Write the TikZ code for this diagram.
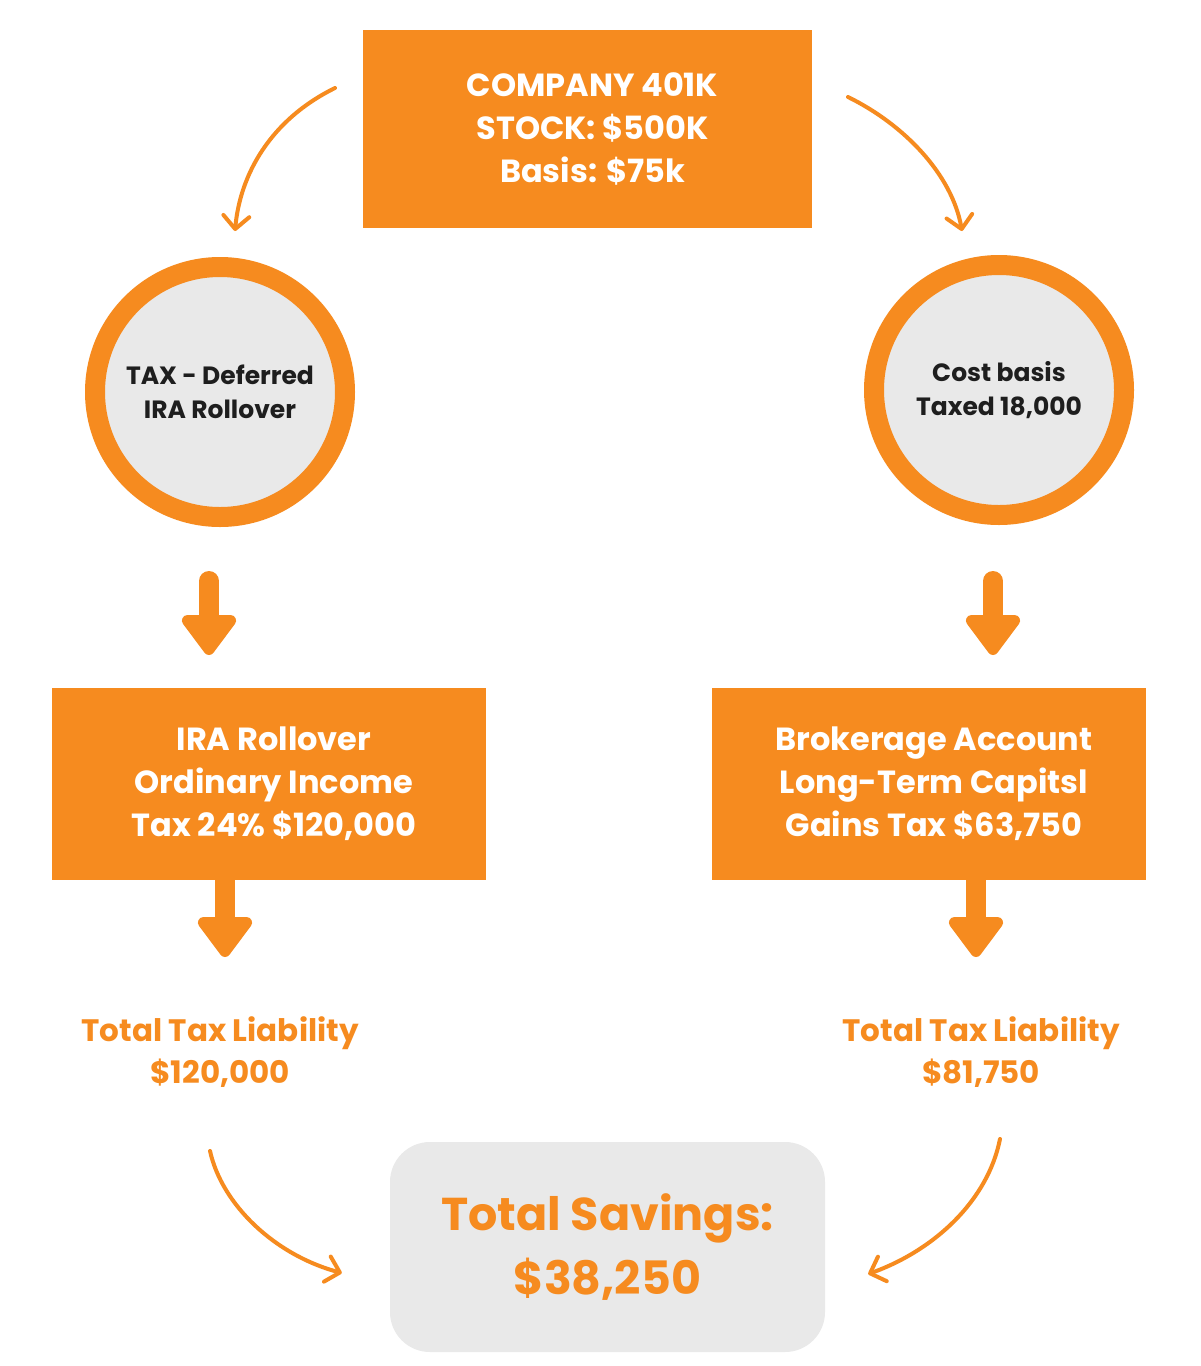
\documentclass[tikz,border=0pt]{standalone}
\usepackage{fontspec}
\setmainfont{Poppins}
\usetikzlibrary{arrows.meta,calc}
\definecolor{org}{HTML}{F68B1F}
\definecolor{lgray}{HTML}{E9E9E9}
\definecolor{dk}{HTML}{1E1E1E}
\begin{document}
\begin{tikzpicture}[x=1pt,y=-1pt,
  obox/.style={fill=org, text=white, inner sep=0pt, outer sep=0pt, align=center,
    font=\fontsize{32}{43}\selectfont\bfseries},
  ring/.style={circle, draw=org, line width=20pt, fill=lgray, minimum size=250pt,
    inner sep=0pt, text=dk, align=center, font=\fontsize{25}{34}\selectfont\bfseries},
  otext/.style={text=org, align=center, font=\fontsize{31}{42}\selectfont\bfseries},
  curvy/.style={draw=org, line width=4pt, line cap=round,
    -{Straight Barb[length=13pt,width=26pt,round]}},
  blockarr/.style={draw=org, line width=20pt,
    -{Triangle[length=44pt,width=62pt,round]}}
]
\fill[white] (0,0) rectangle (1200,1366);

\node[obox, minimum width=449pt, minimum height=198pt] (top) at (587.5,129)
  {\hspace*{10pt}COMPANY 401K\\\hspace*{10pt}STOCK: \$500K\\\hspace*{10pt}Basis: \$75k};

\node[ring] (lc) at (220,392) {TAX - Deferred\\IRA Rollover};
\node[ring] (rc) at (999,390) {Cost basis\\Taxed 18,000};

\node[obox, minimum width=434pt, minimum height=192pt] (lb) at (269,784)
  {\hspace*{10pt}IRA Rollover\\\hspace*{10pt}Ordinary Income\\\hspace*{10pt}Tax 24\% \$120,000};
\node[obox, minimum width=434pt, minimum height=192pt] (rb) at (929,784)
  {\hspace*{10pt}Brokerage Account\\\hspace*{10pt}Long-Term Capitsl\\\hspace*{10pt}Gains Tax \$63,750};

\node[otext] (lt) at (220,1052) {Total Tax Liability\\\$120,000};
\node[otext] (rt) at (981,1052) {Total Tax Liability\\\$81,750};

\node[fill=lgray, rounded corners=40pt, minimum width=435pt, minimum height=210pt,
  inner sep=0pt, text=org, align=center,
  font=\fontsize{46}{64}\selectfont\bfseries] (sav) at (607.5,1247)
  {Total Savings:\\\$38,250};

% curved arrows
\coordinate (c1s) at ($(top.north west)+(-28,58)$);
\coordinate (c1e) at ($(lc.north)+(15,-26)$);
\draw[curvy] (c1s) .. controls (270,120) and (240,175) .. (c1e);
\coordinate (c2s) at ($(top.north east)+(36,67)$);
\coordinate (c2e) at ($(rc.north)+(-37,-24)$);
\draw[curvy] (c2s) .. controls (905,125) and (952,175) .. (c2e);
\coordinate (c3s) at ($(lt.south)+(-10,60)$);
\coordinate (c3e) at ($(sav.west)+(-48,26)$);
\draw[curvy] (c3s) .. controls (222,1205) and (275,1255) .. (c3e);
\coordinate (c4s) at ($(rt.south)+(19,48)$);
\coordinate (c4e) at ($(sav.east)+(43,27)$);
\draw[curvy] (c4s) .. controls (988,1200) and (935,1250) .. (c4e);

% block arrows
\coordinate (b1s) at ($(lc.south)+(-11,54)$);
\coordinate (b1e) at ($(lb.north)+(-60,-33)$);
\draw[blockarr, line cap=round] (b1s) -- (b1e);
\coordinate (b2s) at ($(rc.south)+(-6,56)$);
\coordinate (b2e) at ($(rb.north)+(64,-33)$);
\draw[blockarr, line cap=round] (b2s) -- (b2e);
\coordinate (b3e) at ($(lb.south)+(-44,77)$);
\draw[blockarr] ($(lb.south)+(-44,-2)$) -- (b3e);
\coordinate (b4e) at ($(rb.south)+(47,77)$);
\draw[blockarr] ($(rb.south)+(47,-2)$) -- (b4e);
\end{tikzpicture}
\end{document}
